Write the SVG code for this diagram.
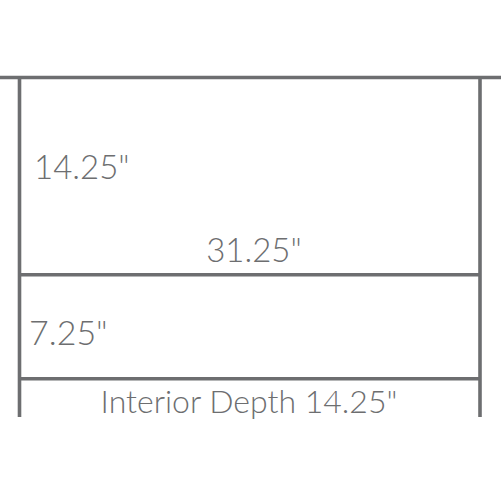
<svg xmlns="http://www.w3.org/2000/svg" width="501" height="501" viewBox="0 0 501 501">
<style>
.ln{stroke:#6d6e70;stroke-width:3.6;fill:none}
.t{font-family:Lato,"Liberation Sans",sans-serif;font-weight:300;fill:#6d6e70}
</style>
<rect width="501" height="501" fill="#ffffff"/>
<g id="connectors">
<line class="ln" x1="0" y1="77.5" x2="501" y2="77.5"/>
<line class="ln" x1="19.5" y1="77.5" x2="19.5" y2="417"/>
<line class="ln" x1="480" y1="77.5" x2="480" y2="417"/>
<line class="ln" x1="19.5" y1="274.7" x2="480" y2="274.7"/>
<line class="ln" x1="19.5" y1="378.7" x2="480" y2="378.7"/>
</g>
<g id="label-height-top"><text class="t" x="34" y="179" font-size="33">14.25"</text></g>
<g id="label-width"><text class="t" x="254" y="262" font-size="33" text-anchor="middle">31.25"</text></g>
<g id="label-height-bottom"><text class="t" x="29" y="345" font-size="34">7.25"</text></g>
<g id="label-depth"><text class="t" x="249" y="413" font-size="32" text-anchor="middle">Interior Depth 14.25"</text></g>
</svg>
